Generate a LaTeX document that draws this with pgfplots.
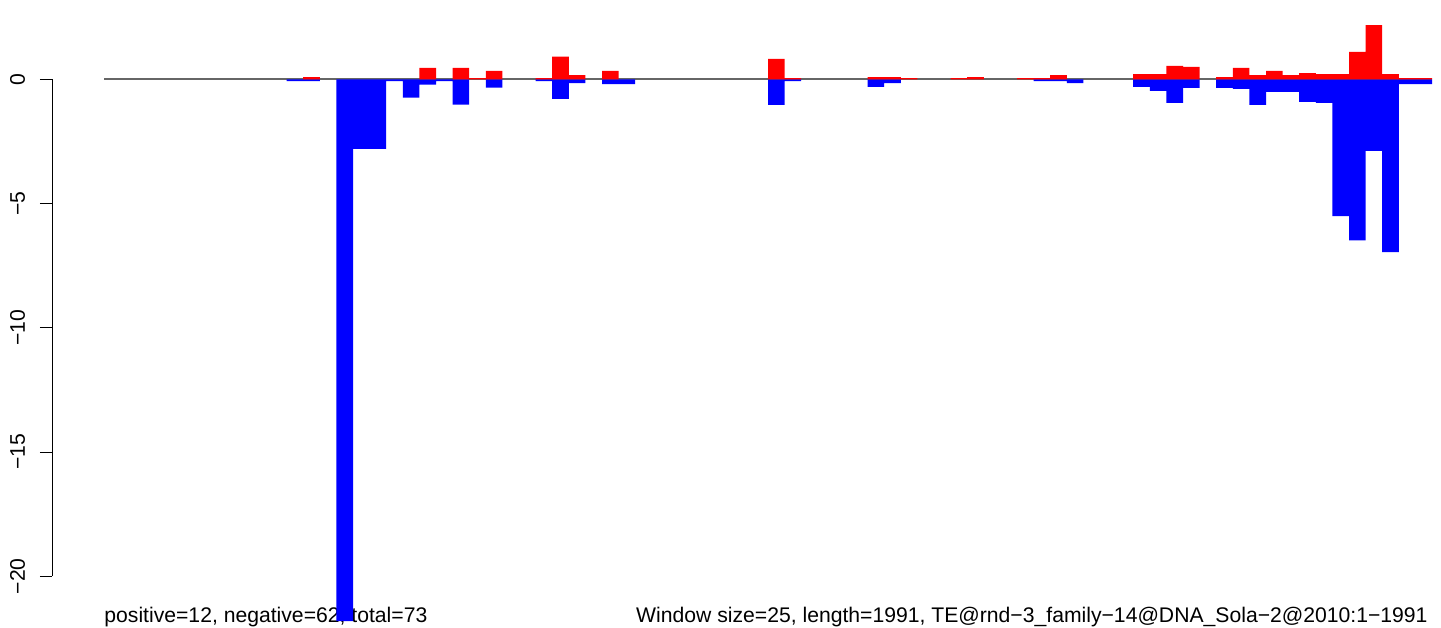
\documentclass[border=0pt]{standalone}
\usepackage{fontspec}
\setmainfont{Liberation Sans}
\usepackage{pgfplots}
\pgfplotsset{compat=1.18}
\definecolor{rred}{RGB}{255,0,0}
\definecolor{rblue}{RGB}{0,0,255}
\newcommand{\lbl}{\fontsize{10.58}{12.7}\selectfont}

\begin{document}
\begin{tikzpicture}
\begin{axis}[
	name=ax,
	set layers,
	scale only axis,
	width=694.5pt, height=313.5pt,
	xmin=-3.133, xmax=80.542,
	ymin=-22.041, ymax=3.191,
	axis x line=none,
	axis y line=left,
	y axis line style={draw=none},
	ytick={-20,-15,-10,-5,0},
	yticklabels={−20,−15,−10,−5,0},
	tick align=outside,
	major tick length=6pt,
	tick style={black, line width=0.5pt},
	yticklabel style={font=\lbl, xshift=-7.5pt, rotate=90, anchor=base, inner sep=0pt},
	clip=false]

	% text under the bars
	\begin{pgfonlayer}{axis background}
	\node[font=\lbl, inner sep=0pt, anchor=base west] at (axis cs:0,-21.85) {positive=12, negative=62, total=73};
	\node[font=\lbl, inner sep=0pt, anchor=base east] at (axis cs:79.76,-21.85) {Window size=25, length=1991, TE@rnd−3\_family−14@DNA\_Sola−2@2010:1−1991};
	\end{pgfonlayer}

	% zero line
	\addplot[gray!80!black, line width=0.8pt, sharp plot] coordinates {(0,0) (80,0)};

	% negative windows
	\addplot[ybar, bar width=1, bar shift=0, fill=rblue, draw=none] coordinates {
		(11.5,-0.07) (12.5,-0.07) (14.5,-21.8) (15.5,-2.8) (16.5,-2.8)
		(17.5,-0.07) (18.5,-0.74) (19.5,-0.21) (20.5,-0.07) (21.5,-1.02)
		(23.5,-0.34) (26.5,-0.07) (27.5,-0.79) (28.5,-0.15) (30.5,-0.19)
		(31.5,-0.19) (40.5,-1.03) (41.5,-0.07) (46.5,-0.31) (47.5,-0.15)
		(56.5,-0.07) (57.5,-0.07) (58.5,-0.15) (62.5,-0.31) (63.5,-0.47)
		(64.5,-0.95) (65.5,-0.35) (67.5,-0.35) (68.5,-0.39) (69.5,-1.03)
		(70.5,-0.51) (71.5,-0.51) (72.5,-0.91) (73.5,-0.95) (74.5,-5.51)
		(75.5,-6.48) (76.5,-2.88) (77.5,-6.96) (78.5,-0.19) (79.5,-0.19)};

	% positive windows
	\addplot[ybar, bar width=1, bar shift=0, fill=rred, draw=none] coordinates {
		(12.5,0.09) (19.5,0.46) (21.5,0.46) (22.5,0.05) (23.5,0.34)
		(26.5,0.05) (27.5,0.91) (28.5,0.17) (30.5,0.34) (40.5,0.82)
		(41.5,0.05) (46.5,0.09) (47.5,0.09) (48.5,0.05) (51.5,0.05)
		(52.5,0.09) (55.5,0.05) (56.5,0.05) (57.5,0.17) (62.5,0.21)
		(63.5,0.21) (64.5,0.54) (65.5,0.50) (67.5,0.09) (68.5,0.46)
		(69.5,0.17) (70.5,0.34) (71.5,0.17) (72.5,0.25) (73.5,0.21)
		(74.5,0.21) (75.5,1.10) (76.5,2.18) (77.5,0.21) (78.5,0.05)
		(79.5,0.05)};

	% y axis line, only from first to last tick
	\draw[line width=0.5pt] (axis cs:-3.133,0) -- (axis cs:-3.133,-20);
\end{axis}
\pgfresetboundingbox
\path[use as bounding box] ([xshift=-26pt]ax.south west) rectangle (ax.north east);
\end{tikzpicture}
\end{document}
